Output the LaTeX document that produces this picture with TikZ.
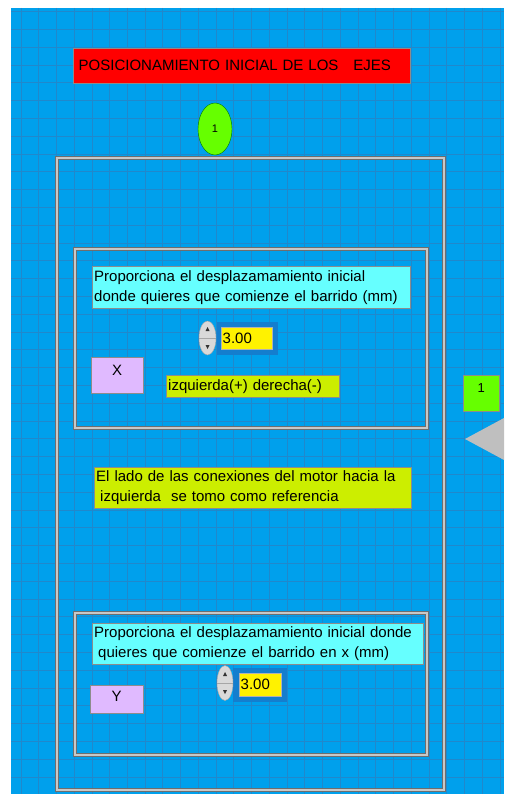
\documentclass[tikz,border=0pt]{standalone}
\usepackage{fontspec}
\setmainfont{Liberation Sans}
\usetikzlibrary{shapes.geometric}
\definecolor{fondo}{RGB}{0,160,236}
\definecolor{rejilla}{RGB}{32,136,204}
\definecolor{sombra}{RGB}{20,126,206}
\definecolor{cian}{RGB}{102,255,255}
\definecolor{verdelima}{RGB}{204,238,0}
\definecolor{verdeseq}{RGB}{102,255,0}
\definecolor{lila}{RGB}{224,186,255}
\definecolor{marcoclaro}{RGB}{200,200,200}
\definecolor{marcooscuro}{RGB}{110,110,110}
\begin{document}
\begin{tikzpicture}
  [x=1pt,y=-1pt,
   every node/.style={inner sep=2pt,font=\fontsize{15}{20}\selectfont},
   marco/.style={draw=marcooscuro,double=marcoclaro,double distance=2pt,line width=.6pt},
   etiqueta/.style={draw=black!45,anchor=north west,align=left},
   indicador/.style={draw=black!45,fill=lila,anchor=north west,text depth=10pt},
   numero/.style={draw=black!30,fill=yellow,anchor=north west,inner sep=1pt},
   flechas/.style={ellipse,draw=gray!70,fill=gray!30,inner sep=0pt}]
  \useasboundingbox (0,0) rectangle (504,794);
  \fill[fondo] (11,8) rectangle (504,794);
  \foreach \gx in {0,...,27}
    \draw[rejilla,line width=.9pt] ({21+17.74*\gx},8) -- ({21+17.74*\gx},794);
  \foreach \gy in {0,...,44}
    \draw[rejilla,line width=.9pt] (11,{11.7+17.8*\gy}) -- (504,{11.7+17.8*\gy});

  \node[etiqueta,fill=red,minimum height=35,text width=326,inner xsep=5.5pt] (titulo) at (73,48)
    {POSICIONAMIENTO INICIAL DE LOS\ \ \ EJES};
  \node[ellipse,draw=green!45!black,fill=verdeseq,minimum width=34,minimum height=52,
    inner sep=0pt,font=\fontsize{11}{13}\selectfont] (sec1) at (215,129) {1};

  \draw[marco] (57,158) rectangle (444,790);
  \draw[marco] (75,249) rectangle (427,428);
  \draw[marco] (75,613) rectangle (427,755);

  % desplazamiento en X
  \node[etiqueta,fill=cian,minimum height=42,text width=314] (textoX) at (92,266)
    {Proporciona el desplazamamiento inicial\\donde quieres que comienze el barrido (mm)};
  \fill[sombra] (217,322) rectangle (278,355);
  \node[numero,minimum width=51,minimum height=22,text width=48] (valorX) at (221,327) {3.00};
  \node[flechas,minimum width=17,minimum height=34] (girarX) at (207.5,338) {};
  \draw[gray!70] (girarX.west) -- (girarX.east);
  \fill[gray!40!black] ([yshift=11pt]girarX.center) -- ++(-2,4) -- ++(4,0) -- cycle;
  \fill[gray!40!black] ([yshift=-11pt]girarX.center) -- ++(-2,-4) -- ++(4,0) -- cycle;
  \node[indicador,minimum width=52,minimum height=36] (ejeX) at (91,357) {X};
  \node[etiqueta,fill=verdelima,minimum height=22,text width=169] (sentido) at (166,375)
    {izquierda(+) derecha(-)};

  \node[draw=black!45,fill=verdeseq,anchor=north west,minimum width=36,minimum height=36,
    text depth=10pt,font=\rmfamily\fontsize{13}{15}\selectfont] (sec2) at (463,375) {1};
  \fill[gray!50] (465,439) -- (504,418) -- (504,460) -- cycle;

  \node[etiqueta,fill=verdelima,minimum height=41,text width=313] (nota) at (94,467)
    {El lado de las conexiones del motor hacia la\\\hspace*{4pt}izquierda\ \ se tomo como referencia};

  % desplazamiento en Y
  \node[etiqueta,fill=cian,minimum height=41,text width=327] (textoY) at (92,623)
    {Proporciona el desplazamamiento inicial donde\\\hspace*{4pt}quieres que comienze el barrido en x (mm)};
  \fill[sombra] (233,668) rectangle (287,702);
  \node[numero,minimum width=42,minimum height=23,text width=39] (valorY) at (239,673) {3.00};
  \node[flechas,minimum width=16,minimum height=35] (girarY) at (225,683) {};
  \draw[gray!70] (girarY.west) -- (girarY.east);
  \fill[gray!40!black] ([yshift=11pt]girarY.center) -- ++(-2,4) -- ++(4,0) -- cycle;
  \fill[gray!40!black] ([yshift=-11pt]girarY.center) -- ++(-2,-4) -- ++(4,0) -- cycle;
  \node[indicador,minimum width=53,minimum height=28,text depth=6pt] (ejeY) at (90,685) {Y};
\end{tikzpicture}
\end{document}
